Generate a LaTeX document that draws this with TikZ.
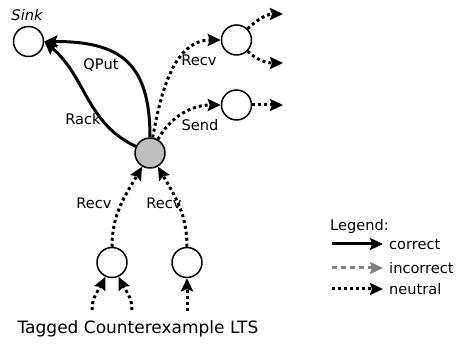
\documentclass[tikz,border=0pt]{standalone}
\usepackage{fontspec}
\setmainfont{DejaVu Sans}
\usetikzlibrary{arrows.meta}

\begin{document}
\begin{tikzpicture}[x=1pt,y=1pt,line join=round,
  st/.style={circle,draw,line width=1.5pt,minimum size=30pt,inner sep=0pt},
  tip/.style={-{Stealth[length=13pt,width=12pt,inset=2pt]}},
  correct/.style={tip,line width=3pt},
  incorrect/.style={tip,line width=3pt,gray,dash pattern=on 5pt off 4pt},
  neutral/.style={tip,line width=3pt,dash pattern=on 3pt off 3pt},
  lbl/.style={font=\fontsize{14.6}{17}\selectfont,inner sep=1pt}]
\useasboundingbox (0,0) rectangle (458,345);
\node[st] (sink) at (28.5,303.5) {};
\node[st,fill=black!25] (c) at (150,192) {};
\node[st] (tr) at (236.5,305) {};
\node[st] (sn) at (236.5,240) {};
\node[st] (bl) at (112,82.5) {};
\node[st] (br) at (187,82.5) {};
\node[lbl,font=\fontsize{14.6}{17}\selectfont\itshape] (sinklbl) at (27,330) {Sink};
\coordinate (tr1) at (283,331);\coordinate (tr2) at (283,282);\coordinate (sn1) at (283,240);
\coordinate (blin1) at (92,35);\coordinate (blin2) at (132,35);\coordinate (brin) at (187,34);
\draw[correct] (c.north) to[out=90,in=0,looseness=1.35] (sink.east);
\draw[correct] (c.155) to[out=155,in=-40] (sink.east);
\draw[neutral] (c.80) to[out=80,in=180] (tr.west);
\draw[neutral] (c.60) to[out=60,in=180] (sn.west);
\draw[neutral] (tr.45) to[out=45,in=180] (tr1);
\draw[neutral] (tr.-45) to[out=-45,in=180] (tr2);
\draw[neutral] (sn.east) -- (sn1);
\draw[neutral] (bl.north) to[out=90,in=-120] (c.-120);
\draw[neutral] (br.north) to[out=90,in=-60] (c.-60);
\draw[neutral] (blin1) to[out=90,in=-115] (bl.-115);
\draw[neutral] (blin2) to[out=90,in=-65] (bl.-65);
\draw[neutral] (brin) -- (br.south);
\node[lbl] (lq) at (101,280) {QPut};\node[lbl] (lr) at (83,226) {Rack};
\node[lbl] (lrt) at (199,285) {Recv};\node[lbl] (ls) at (200,220) {Send};
\node[lbl] (lrl) at (94,142) {Recv};\node[lbl] (lrr) at (164,142) {Recv};
\node[font=\fontsize{17}{20}\selectfont] (cap) at (138,16) {Tagged Counterexample LTS};
% legend
\node[lbl,anchor=west] (leg) at (329,119) {Legend:};
\coordinate (lc0) at (332,101);\coordinate (lc1) at (383,101);
\coordinate (li0) at (332,77);\coordinate (li1) at (383,77);
\coordinate (ln0) at (332,56);\coordinate (ln1) at (383,56);
\draw[correct] (lc0) -- (lc1);\draw[incorrect] (li0) -- (li1);\draw[neutral] (ln0) -- (ln1);
\node[lbl,anchor=west] (lct) at (388,101) {correct};
\node[lbl,anchor=west] (lit) at (388,77) {incorrect};
\node[lbl,anchor=west] (lnt) at (388,56) {neutral};
\end{tikzpicture}
\end{document}
